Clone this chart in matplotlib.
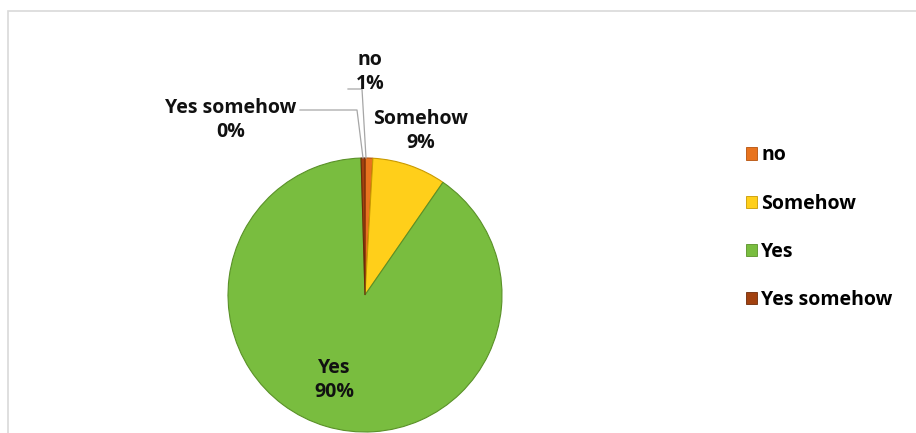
import matplotlib.pyplot as plt
from matplotlib.patches import Rectangle, Patch

# survey answers (counts)
categories = ['no', 'Somehow', 'Yes', 'Yes somehow']
counts = [2, 19, 196, 1]
colors = ['#E8731E', '#FFCF1A', '#79BD3F', '#A2410F']
edges = ['#B5520C', '#C99A00', '#5A9128', '#6E2A08']

W, H = 916, 433
plt.rcParams['font.family'] = ['Open Sans', 'DejaVu Sans']

fig = plt.figure(figsize=(W / 100, H / 100), dpi=100)
ax = fig.add_axes([0, 0, 1, 1])

# chart frame
fig.patches.append(Rectangle((8 / W, -0.1), 1.2, (H - 11) / H + 0.1,
                             transform=fig.transFigure, fill=False,
                             edgecolor='#D9D9D9', linewidth=1.2))

cx, cy, r = 365, H - 295, 137
wedges, _ = ax.pie(counts, colors=colors, startangle=90, counterclock=False,
                   center=(cx, cy), radius=r, frame=True,
                   wedgeprops=dict(linewidth=0.8))
for w, ec in zip(wedges, edges):
    w.set_edgecolor(ec)
ax.set_xlim(0, W)
ax.set_ylim(0, H)
ax.axis('off')

total = sum(counts)
pct = [round(100 * c / total) for c in counts]
label_pos = {'no': (370, 72), 'Somehow': (421, 131),
             'Yes': (334, 380), 'Yes somehow': (231, 120)}
for name, p in zip(categories, pct):
    x, y = label_pos[name]
    ax.text(x, H - y, f'{name}\n{p}%', ha='center', va='center',
            fontsize=14, fontweight='bold', linespacing=1.3, color='#111111')

# leader lines for the two thin slices
ax.plot([348, 362, 366], [H - 89, H - 89, H - 158], color='#A6A6A6', lw=0.9)
ax.plot([300, 357, 363], [H - 110, H - 110, H - 158], color='#A6A6A6', lw=0.9)

handles = [Patch(facecolor=c, edgecolor=e, linewidth=0.6) for c, e in zip(colors, edges)]
leg = ax.legend(handles, categories, loc='upper left',
                bbox_to_anchor=(728 / W, 1 - 128 / H), frameon=False,
                prop=dict(size=14, weight='bold'), handlelength=0.6,
                handleheight=0.6, handletextpad=0.2, labelspacing=1.45)

fig.savefig('out.png', dpi=100)
